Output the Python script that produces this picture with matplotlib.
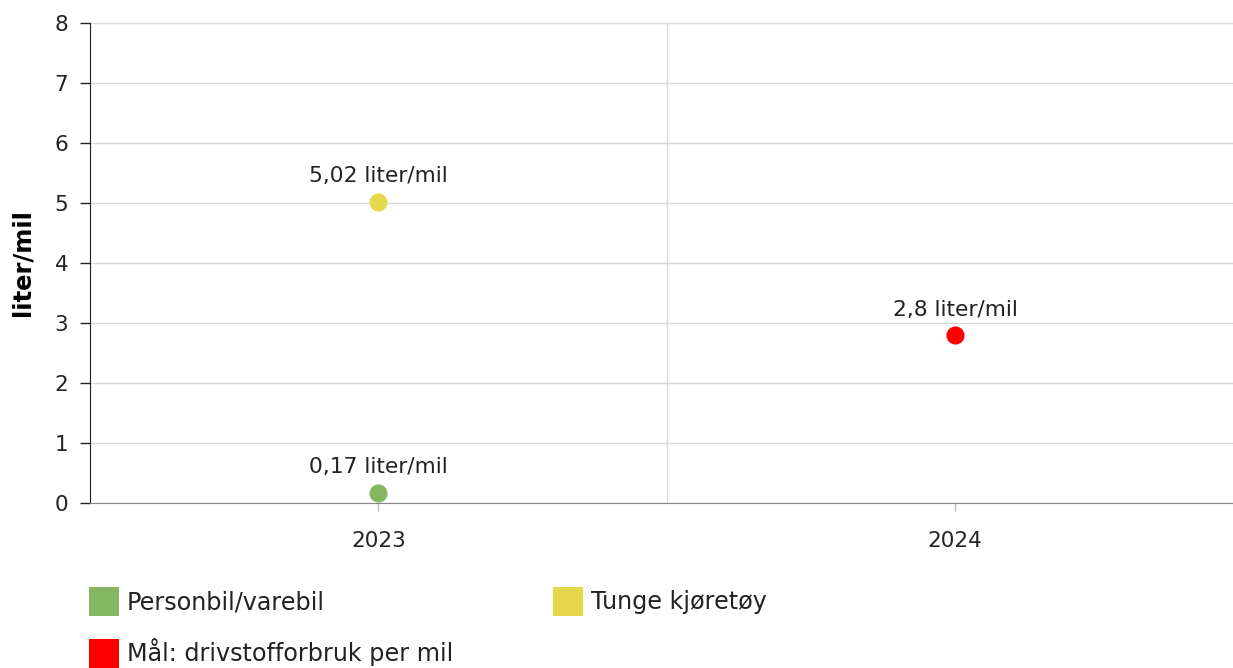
import matplotlib
matplotlib.use("Agg")
import matplotlib.pyplot as plt
from matplotlib.patches import Rectangle

categories = ["2023", "2024"]
series_names = ["Personbil/varebil", "Tunge kjøretøy", "Mål: drivstofforbruk per mil"]
series_x = [0, 0, 1]
series_values = [0.17, 5.02, 2.8]
series_labels = ["0,17 liter/mil", "5,02 liter/mil", "2,8 liter/mil"]
series_colors = ["#85B762", "#E5D84A", "#FF0000"]
y_ticks = [0, 1, 2, 3, 4, 5, 6, 7, 8]

plt.rcParams['font.family'] = ['DejaVu Sans']
W, H = 1233, 668
fig = plt.figure(figsize=(W / 100, H / 100), dpi=100)
left, right, top, bottom = 90, 1243.5, 23, 503
ax = fig.add_axes([left / W, 1 - bottom / H, (right - left) / W, (bottom - top) / H])

ax.set_xlim(-0.5, len(categories) - 0.5)
ax.set_ylim(0, 8)
ax.set_yticks(y_ticks)
ax.set_yticklabels([str(t) for t in y_ticks], fontsize=15.5, color="#222222")
ax.set_xticks(range(len(categories)))
ax.set_xticklabels(categories, fontsize=15.5, color="#222222")
ax.set_xticks([0.5], minor=True)

ax.grid(axis="y", color="#d9d9d9", linewidth=1)
ax.grid(axis="x", which="minor", color="#d9d9d9", linewidth=1)
ax.set_axisbelow(True)

for s in ["top", "right"]:
    ax.spines[s].set_visible(False)
ax.spines["left"].set_color("#222222")
ax.spines["bottom"].set_color("#888888")
ax.tick_params(axis="y", length=7.2, width=1, color="#222222", pad=8.5)
ax.tick_params(axis="x", which="major", length=6, width=1, color="#bbbbbb", pad=14)
ax.tick_params(axis="x", which="minor", length=0)

for xi, v, lab, c in zip(series_x, series_values, series_labels, series_colors):
    ax.scatter([xi], [v], s=170, color=c, zorder=3, linewidths=0)
    ax.annotate(lab, (xi, v), xytext=(0, 14), textcoords="offset points",
                ha="center", va="baseline", fontsize=15.7, color="#222222")

ax.set_ylabel("liter/mil", fontsize=17.5, fontweight="bold")
ax.yaxis.set_label_coords((35 - left) / (right - left), 0.5)

# legend
legend_pos = [(89, 587), (553, 587), (89, 639)]
for (lx, ly), name, c in zip(legend_pos, series_names, series_colors):
    fig.add_artist(Rectangle((lx / W, 1 - (ly + 29) / H), 30 / W, 29 / H,
                             transform=fig.transFigure, color=c, lw=0))
    fig.text((lx + 38) / W, 1 - (ly + 22) / H, name, fontsize=17.2,
             va="baseline", ha="left", color="#222222")

fig.savefig("out.png", dpi=100)
